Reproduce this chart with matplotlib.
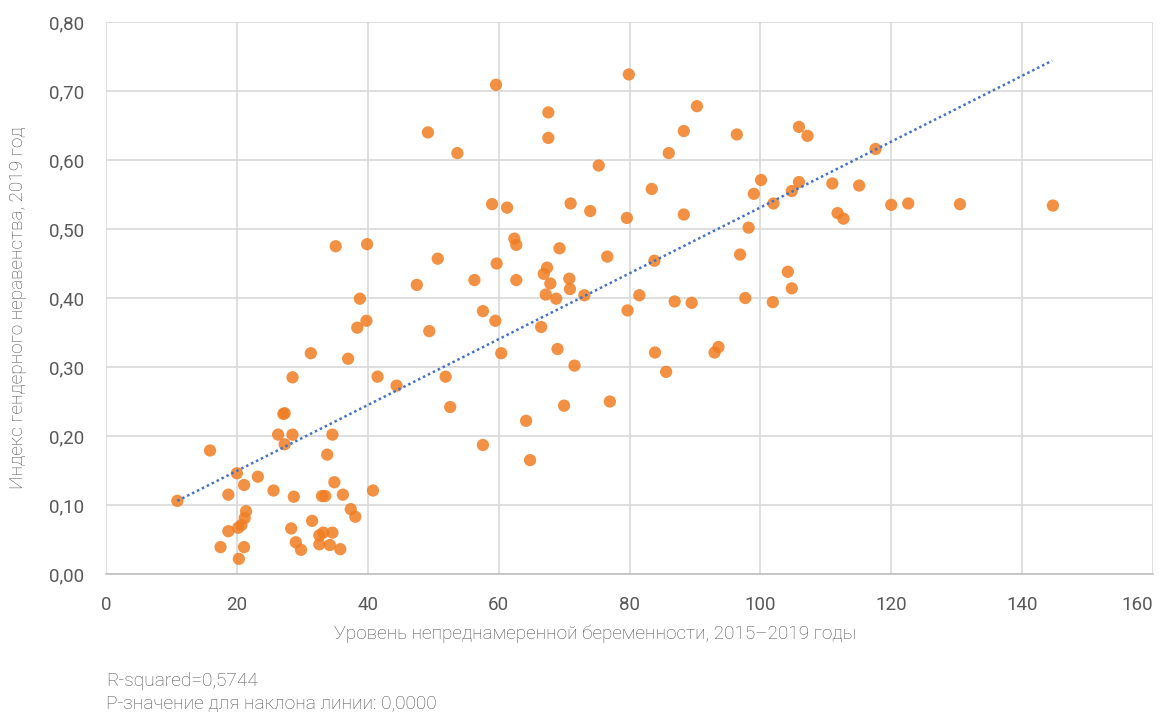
import matplotlib
matplotlib.use("Agg")
import matplotlib.pyplot as plt
from matplotlib.ticker import FuncFormatter

plt.rcParams['font.family'] = ['Roboto', 'DejaVu Sans']

# Unintended pregnancy rate (x) vs Gender inequality index (y)
pregnancy_rate = [
    10.9, 15.9, 17.5, 18.7, 18.7, 20.0, 20.3, 20.2, 20.7, 21.1,
    21.1, 21.2, 21.4, 23.2, 25.6, 26.3, 27.1, 27.3, 27.3, 28.5,
    28.5, 28.7, 28.3, 29.0, 29.8, 31.3, 31.5, 32.6, 32.6, 33.0,
    33.5, 33.2, 33.8, 34.2, 34.6, 34.6, 34.9, 35.1, 35.8, 36.2,
    37.0, 37.4, 38.1, 38.4, 38.8, 39.8, 39.9, 40.8, 41.5, 44.4,
    47.5, 49.2, 49.4, 50.7, 51.9, 52.6, 53.7, 56.3, 57.6, 57.6,
    59.0, 59.5, 59.6, 59.7, 60.4, 61.3, 62.4, 62.7, 62.7, 64.2,
    64.8, 66.5, 66.9, 67.4, 67.2, 67.6, 67.6, 67.9, 68.8, 69.0,
    69.3, 70.0, 70.8, 70.9, 71.0, 71.6, 73.1, 74.0, 75.3, 76.6,
    77.0, 79.6, 79.7, 79.9, 81.5, 83.4, 83.8, 83.9, 85.6, 86.0,
    86.9, 88.3, 88.3, 89.5, 90.3, 93.0, 93.6, 96.4, 96.9, 97.7,
    98.2, 99.0, 100.1, 101.9, 102.0, 104.2, 104.8, 104.8, 105.9, 105.9,
    107.2, 111.0, 111.8, 112.7, 115.1, 117.6, 120.0, 122.6, 130.5, 144.7,
]
gender_index = [
    0.106, 0.179, 0.039, 0.115, 0.062, 0.146, 0.022, 0.067, 0.071, 0.039,
    0.129, 0.081, 0.091, 0.141, 0.121, 0.202, 0.232, 0.233, 0.188, 0.202,
    0.285, 0.112, 0.066, 0.046, 0.035, 0.320, 0.077, 0.056, 0.043, 0.113,
    0.113, 0.060, 0.173, 0.042, 0.060, 0.202, 0.133, 0.475, 0.036, 0.115,
    0.312, 0.094, 0.083, 0.357, 0.399, 0.367, 0.478, 0.121, 0.286, 0.273,
    0.419, 0.640, 0.352, 0.457, 0.286, 0.242, 0.610, 0.426, 0.381, 0.187,
    0.536, 0.367, 0.709, 0.450, 0.320, 0.531, 0.486, 0.477, 0.426, 0.222,
    0.165, 0.358, 0.435, 0.444, 0.405, 0.669, 0.632, 0.421, 0.399, 0.326,
    0.472, 0.244, 0.428, 0.413, 0.537, 0.302, 0.404, 0.526, 0.592, 0.460,
    0.250, 0.516, 0.382, 0.724, 0.404, 0.558, 0.454, 0.321, 0.293, 0.610,
    0.395, 0.642, 0.521, 0.393, 0.678, 0.321, 0.329, 0.637, 0.463, 0.400,
    0.502, 0.551, 0.571, 0.394, 0.537, 0.438, 0.414, 0.555, 0.568, 0.648,
    0.635, 0.566, 0.523, 0.515, 0.563, 0.616, 0.535, 0.537, 0.536, 0.534,
]

# Trend line endpoints
trend_x = [10.9, 144.6]
trend_y = [0.106, 0.744]

x_ticks = [0, 20, 40, 60, 80, 100, 120, 140, 160]
y_ticks = [0.0, 0.1, 0.2, 0.3, 0.4, 0.5, 0.6, 0.7, 0.8]

x_label = "Уровень непреднамеренной беременности, 2015–2019 годы"
y_label = "Индекс гендерного неравенства, 2019 год"
notes = ["R-squared=0,5744", "P-значение для наклона линии: 0,0000"]

W, H = 1160, 712
fig = plt.figure(figsize=(W/100, H/100), dpi=100)
ax = fig.add_axes([106/W, 1 - 574/H, (1153-106)/W, (574-22)/H])

text_col = '#595959'
light_col = '#505050'
grid_col = '#D9D9D9'
fs_tick = 13.5
fs_label = 13.7

ax.scatter(pregnancy_rate, gender_index, s=78, color='#F07E22', alpha=0.85,
           edgecolors='none', zorder=3)
ax.plot(trend_x, trend_y, linestyle=(0, (1, 1.2)), color='#4472C4', lw=1.8, zorder=4)

ax.set_xlim(0, 160)
ax.set_ylim(0, 0.8)
ax.set_xticks(x_ticks)
ax.set_yticks(y_ticks)
ax.yaxis.set_major_formatter(FuncFormatter(lambda v, p: f"{v:.2f}".replace('.', ',')))
ax.xaxis.set_major_formatter(FuncFormatter(lambda v, p: f"{v:.0f}"))

ax.grid(True, color=grid_col, lw=1.2, zorder=0)
ax.set_axisbelow(True)
for side in ['top', 'right', 'left']:
    ax.spines[side].set_visible(False)
ax.spines['bottom'].set_color('#BFBFBF')
ax.spines['bottom'].set_linewidth(1.2)
ax.tick_params(axis='both', length=0, labelsize=fs_tick, colors=text_col)
ax.tick_params(axis='x', pad=16)
ax.tick_params(axis='y', pad=16)

fig.canvas.draw()
xlabels = ax.get_xticklabels()
xlabels[-1].set_horizontalalignment('right')

fig.text(595/W, 1 - 634/H, x_label, fontsize=fs_label, color=light_col,
         ha='center', va='center', fontweight='light')
fig.text(18/W, 1 - 308/H, y_label, fontsize=fs_label, color=light_col,
         ha='center', va='center', rotation=90, fontweight='light')

fig.text(106/W, 1 - 681/H, notes[0], fontsize=13.8, color=light_col, va='center',
         ha='left', fontweight='light')
fig.text(106/W, 1 - 704/H, notes[1], fontsize=13.8, color=light_col, va='center',
         ha='left', fontweight='light')

fig.savefig("out.png", dpi=100)
